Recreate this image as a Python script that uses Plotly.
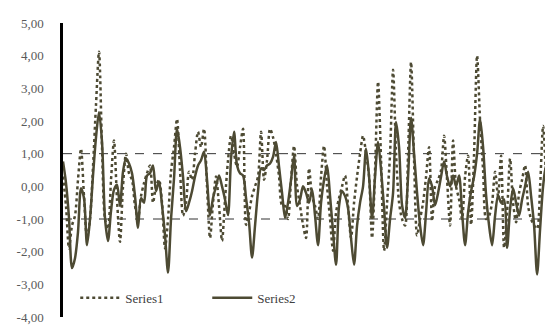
import plotly.graph_objects as go

series1 = [0.3, -0.6, -1.9, -1.2, -0.9, 0.2, 1.15, -0.3, -1.6, -1.0,
           0.6, 2.5, 4.12, 1.2, -1.0, -1.3, 0.2, 1.4, -0.4, -1.7,
           0.0, 1.0, 0.4, 0.2, -0.6, -1.0, -0.3, 0.1, 0.4, 0.64,
           -0.5, 0.0, 0.2, -0.5, -1.9, -1.0, 0.45, 1.2, 2.06, 0.5,
           -0.9, -0.5, 0.45, 0.2, 1.0, 1.67, 1.2, 1.76, 0.0, -1.58,
           -0.5, 0.3, -0.6, -1.67, -0.4, 0.8, 1.55, 1.0, 0.6, 1.2,
           1.76, -1.18, -0.8, -0.3, 0.0, 0.3, 1.67, 0.2, 0.8, 1.76,
           1.5, 1.0, 0.3, -0.58, -0.6, -1.0, 0.2, 1.24, 0.0, -0.6,
           -1.18, -1.58, 0.55, -0.3, -0.6, -1.0, 0.3, 1.24, 0.0, -1.0,
           -1.97, -0.8, -0.36, 0.0, 0.33, -0.6, -1.58, -0.5, 0.3, 1.0,
           1.55, 1.0, 0.3, -1.58, 0.5, 3.2, 0.8, -1.97, -0.5, 1.0,
           3.57, 1.0, -0.5, -1.0, -1.2, 1.0, 3.8, 0.8, -1.5, -1.0,
           -0.5, 0.3, 1.2, -1.06, 0.0, 0.2, 0.5, 1.55, 0.2, -1.2,
           1.4, 0.0, -0.4, -1.0, 0.3, 0.94, -1.18, 1.0, 4.0, 2.0,
           0.5, -1.0, -0.9, -0.5, 0.45, -0.3, 0.94, -1.88, -0.8, 0.85,
           -0.5, -1.1, -0.2, 0.2, 0.64, -0.6, -1.0, -1.2, -1.3, 0.0,
           1.85, 0.3, -1.18, -0.5]

series2 = [0.76, 0.1, -0.97, -2.5, -2.2, -1.4, -0.06, -0.36, -1.8, -1.0,
           0.33, 1.5, 2.27, 1.36, -0.97, -1.67, -0.76, -0.1, 0.05, -0.6,
           0.45, 0.85, 0.7, 0.4, -0.3, -1.27, -0.36, -0.5, 0.33, 0.4,
           0.64, -0.15, 0.15, -0.58, -1.5, -2.64, -1.0, 0.24, 1.76, 1.2,
           0.3, -0.76, -0.5, -0.15, 0.3, 0.64, 0.8, 1.06, 0.2, -0.88,
           -0.36, 0.0, 0.33, 0.0, -0.4, -0.88, 0.85, 1.67, 0.64, 0.4,
           0.33, -0.36, -1.1, -2.18, -1.2, -0.15, 0.55, 0.5, 0.64, 0.7,
           0.9, 1.36, 0.6, -0.2, -0.97, -0.5, 0.2, 0.94, -0.6, -0.4,
           0.0, -0.2, -0.5, -0.1, -0.9, -1.8, -0.5, 0.2, 0.64, -0.3,
           -1.4, -2.4, -0.6, -0.15, -0.3, -0.67, -1.6, -2.4, -1.2, -0.5,
           0.0, 1.15, 0.3, -0.97, 0.3, 1.36, 0.5, -0.67, -1.88, -1.0,
           -0.2, 1.97, 1.2, -0.58, -0.97, 0.3, 2.1, 1.0, -0.2, -1.2,
           -1.8, -0.8, 0.24, 0.0, -0.58, -0.2, 0.3, 0.76, 0.3, 0.0,
           0.33, 0.0, 0.33, -0.8, -1.8, -0.8, -0.15, 0.3, 1.0, 2.06,
           1.2, -0.27, -1.2, -1.8, -0.9, -0.27, -0.5, -0.4, -1.88, -0.7,
           -0.06, -0.5, -0.9, -0.4, 0.0, 0.45, -0.3, -1.2, -2.7, -1.3,
           0.0, 0.64, 0.3, -0.58]

x_vals = list(range(len(series1)))
tick_vals = [5, 4, 3, 2, 1, 0, -1, -2, -3, -4]
tick_text = ["5,00", "4,00", "3,00", "2,00", "1,00", "0,00", "-1,00", "-2,00", "-3,00", "-4,00"]
ref_levels = [1, -1]

color = "#4d4a33"
fig = go.Figure()
fig.add_trace(go.Scatter(x=x_vals, y=series1, name="Series1", mode="lines",
                         line=dict(color=color, width=2.5, dash="dot", shape="spline", smoothing=0.8)))
fig.add_trace(go.Scatter(x=x_vals, y=series2, name="Series2", mode="lines",
                         line=dict(color=color, width=2.5, shape="spline", smoothing=0.8)))

for lv in ref_levels:
    fig.add_shape(type="line", xref="paper", x0=0, x1=1, yref="y", y0=lv, y1=lv,
                  line=dict(color="#333333", width=1, dash="dash"), layer="below")

fig.update_layout(
    width=553, height=325,
    margin=dict(l=55, r=8, t=15, b=13),
    paper_bgcolor="white", plot_bgcolor="white",
    font=dict(family="Liberation Serif", size=13, color="#595959"),
    showlegend=True,
    legend=dict(orientation="h", x=0.025, y=0.065, xanchor="left", yanchor="middle",
                bgcolor="rgba(0,0,0,0)", font=dict(size=13, color="#404040"),
                itemwidth=40, tracegroupgap=0, entrywidth=77, entrywidthmode="pixels"),
    xaxis=dict(range=[0, 163.3], showgrid=False, zeroline=False, showline=False,
               showticklabels=False, ticks=""),
    yaxis=dict(range=[-4, 5], tickvals=tick_vals, ticktext=tick_text, showgrid=False,
               zeroline=False, showline=True, linecolor="black", linewidth=2.5,
               ticks="outside", ticklen=14, tickcolor="rgba(0,0,0,0)",
               ticklabeloverflow="allow"),
)

fig.write_html("out.html")
